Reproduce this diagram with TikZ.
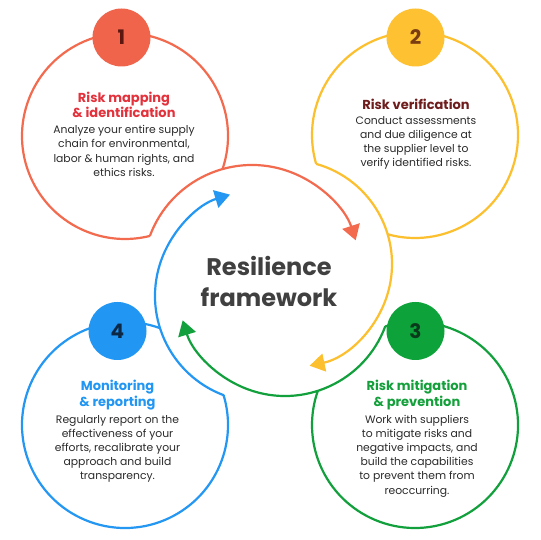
\documentclass[tikz,border=0pt]{standalone}
\usepackage{fontspec}
\setmainfont{Poppins}
\usetikzlibrary{arrows.meta,positioning}

\definecolor{redline}{HTML}{F26B4F}
\definecolor{redfill}{HTML}{F0644B}
\definecolor{redtitle}{HTML}{E4323C}
\definecolor{rednum}{HTML}{5C1711}
\definecolor{yelline}{HTML}{FCBF2D}
\definecolor{yelfill}{HTML}{FDC131}
\definecolor{yeltitle}{HTML}{6E1C1C}
\definecolor{yelnum}{HTML}{7A3D12}
\definecolor{grnline}{HTML}{12A03C}
\definecolor{grnfill}{HTML}{0DA33A}
\definecolor{grntitle}{HTML}{13A03A}
\definecolor{grnnum}{HTML}{0A3A1C}
\definecolor{bluline}{HTML}{2497F3}
\definecolor{blufill}{HTML}{2196F3}
\definecolor{blutitle}{HTML}{2196F3}
\definecolor{blunum}{HTML}{0C2844}
\definecolor{bodygray}{HTML}{2B2B2B}
\definecolor{centergray}{HTML}{404040}

\begin{document}
\begin{tikzpicture}[x=1pt,y=1pt,
    loopline/.style={line width=2.2pt},
    cyclearrow/.style={-{Triangle[length=15pt,width=18pt]}},
    stepbadge/.style={circle,minimum size=58pt,inner sep=0pt,font=\fontsize{20}{24}\selectfont\bfseries},
    steptitle/.style={align=center,font=\fontsize{13}{15.5}\selectfont\bfseries},
    steptext/.style={align=center,text=bodygray,font=\fontsize{10.8}{14.2}\selectfont}]
  \fill[white] (0,0) rectangle (540,540);
  \useasboundingbox (0,0) rectangle (540,540);

  % centres of the four step circles and of the four ring arcs
  \coordinate (c1) at (125,404);
  \coordinate (c2) at (415,405);
  \coordinate (c3) at (415,115);
  \coordinate (c4) at (125,115);
  \coordinate (p1) at (252,266);
  \coordinate (p2) at (288,276);
  \coordinate (p3) at (285,251);
  \coordinate (p4) at (261,244);

  % step circles, open where they meet the ring
  \draw[loopline,redline] (c1) ++(-18.8:103pt) arc[start angle=-18.8, end angle=284, radius=103pt];
  \draw[loopline,yelline] (c2) ++(254.6:103pt) arc[start angle=254.6, end angle=556.2, radius=103pt];
  \draw[loopline,grnline] (c3) ++(106.8:103pt) arc[start angle=106.8, end angle=-199.4, radius=103pt];
  \draw[loopline,bluline] (c4) ++(70.1:103pt) arc[start angle=70.1, end angle=376.9, radius=103pt];

  % ring arrows
  \draw[loopline,cyclearrow,redline] (p1) ++(159.6:109pt) arc[start angle=159.6, end angle=18, radius=109pt];
  \draw[loopline,cyclearrow,yelline] (p2) ++(74.3:104pt) arc[start angle=74.3, end angle=-78, radius=104pt];
  \draw[loopline,cyclearrow,grnline] (p3) ++(-20.4:107pt) arc[start angle=-20.4, end angle=-163, radius=107pt];
  \draw[loopline,cyclearrow,bluline] (p4) ++(249.5:106pt) arc[start angle=249.5, end angle=107, radius=106pt];

  % number badges
  \node[stepbadge,fill=redfill,text=rednum] (b1) at (121.5,502.5) {1};
  \node[stepbadge,fill=yelfill,text=yelnum] (b2) at (415.5,502.5) {2};
  \node[stepbadge,fill=grnfill,text=grnnum] (b3) at (415.5,209) {3};
  \node[stepbadge,fill=blufill,text=blunum] (b4) at (117.5,209) {4};

  % texts
  \node[steptitle,text=redtitle] (t1) at (124,435) {Risk mapping\\\& identification};
  \node[steptext] (d1) at (124,389) {Analyze your entire supply\\chain for environmental,\\labor \& human rights, and\\ethics risks.};
  \node[steptitle,text=yeltitle] (t2) at (416,436) {Risk verification};
  \node[steptext] (d2) at (416,397) {Conduct assessments\\and due diligence at\\the supplier level to\\verify identified risks.};
  \node[steptitle,text=grntitle] (t3) at (417,145) {Risk mitigation\\\& prevention};
  \node[steptext] (d3) at (417,84) {Work with suppliers\\to mitigate risks and\\negative impacts, and\\build the capabilities\\to prevent them from\\reoccurring.};
  \node[steptitle,text=blutitle] (t4) at (117.5,145) {Monitoring\\\& reporting};
  \node[steptext] (d4) at (117.5,91) {Regularly report on the\\effectiveness of your\\efforts, recalibrate your\\approach and build\\transparency.};

  \node[align=center,text=centergray,font=\fontsize{24}{31}\selectfont\bfseries] (hub) at (269,258.5) {Resilience\\framework};
\end{tikzpicture}
\end{document}
